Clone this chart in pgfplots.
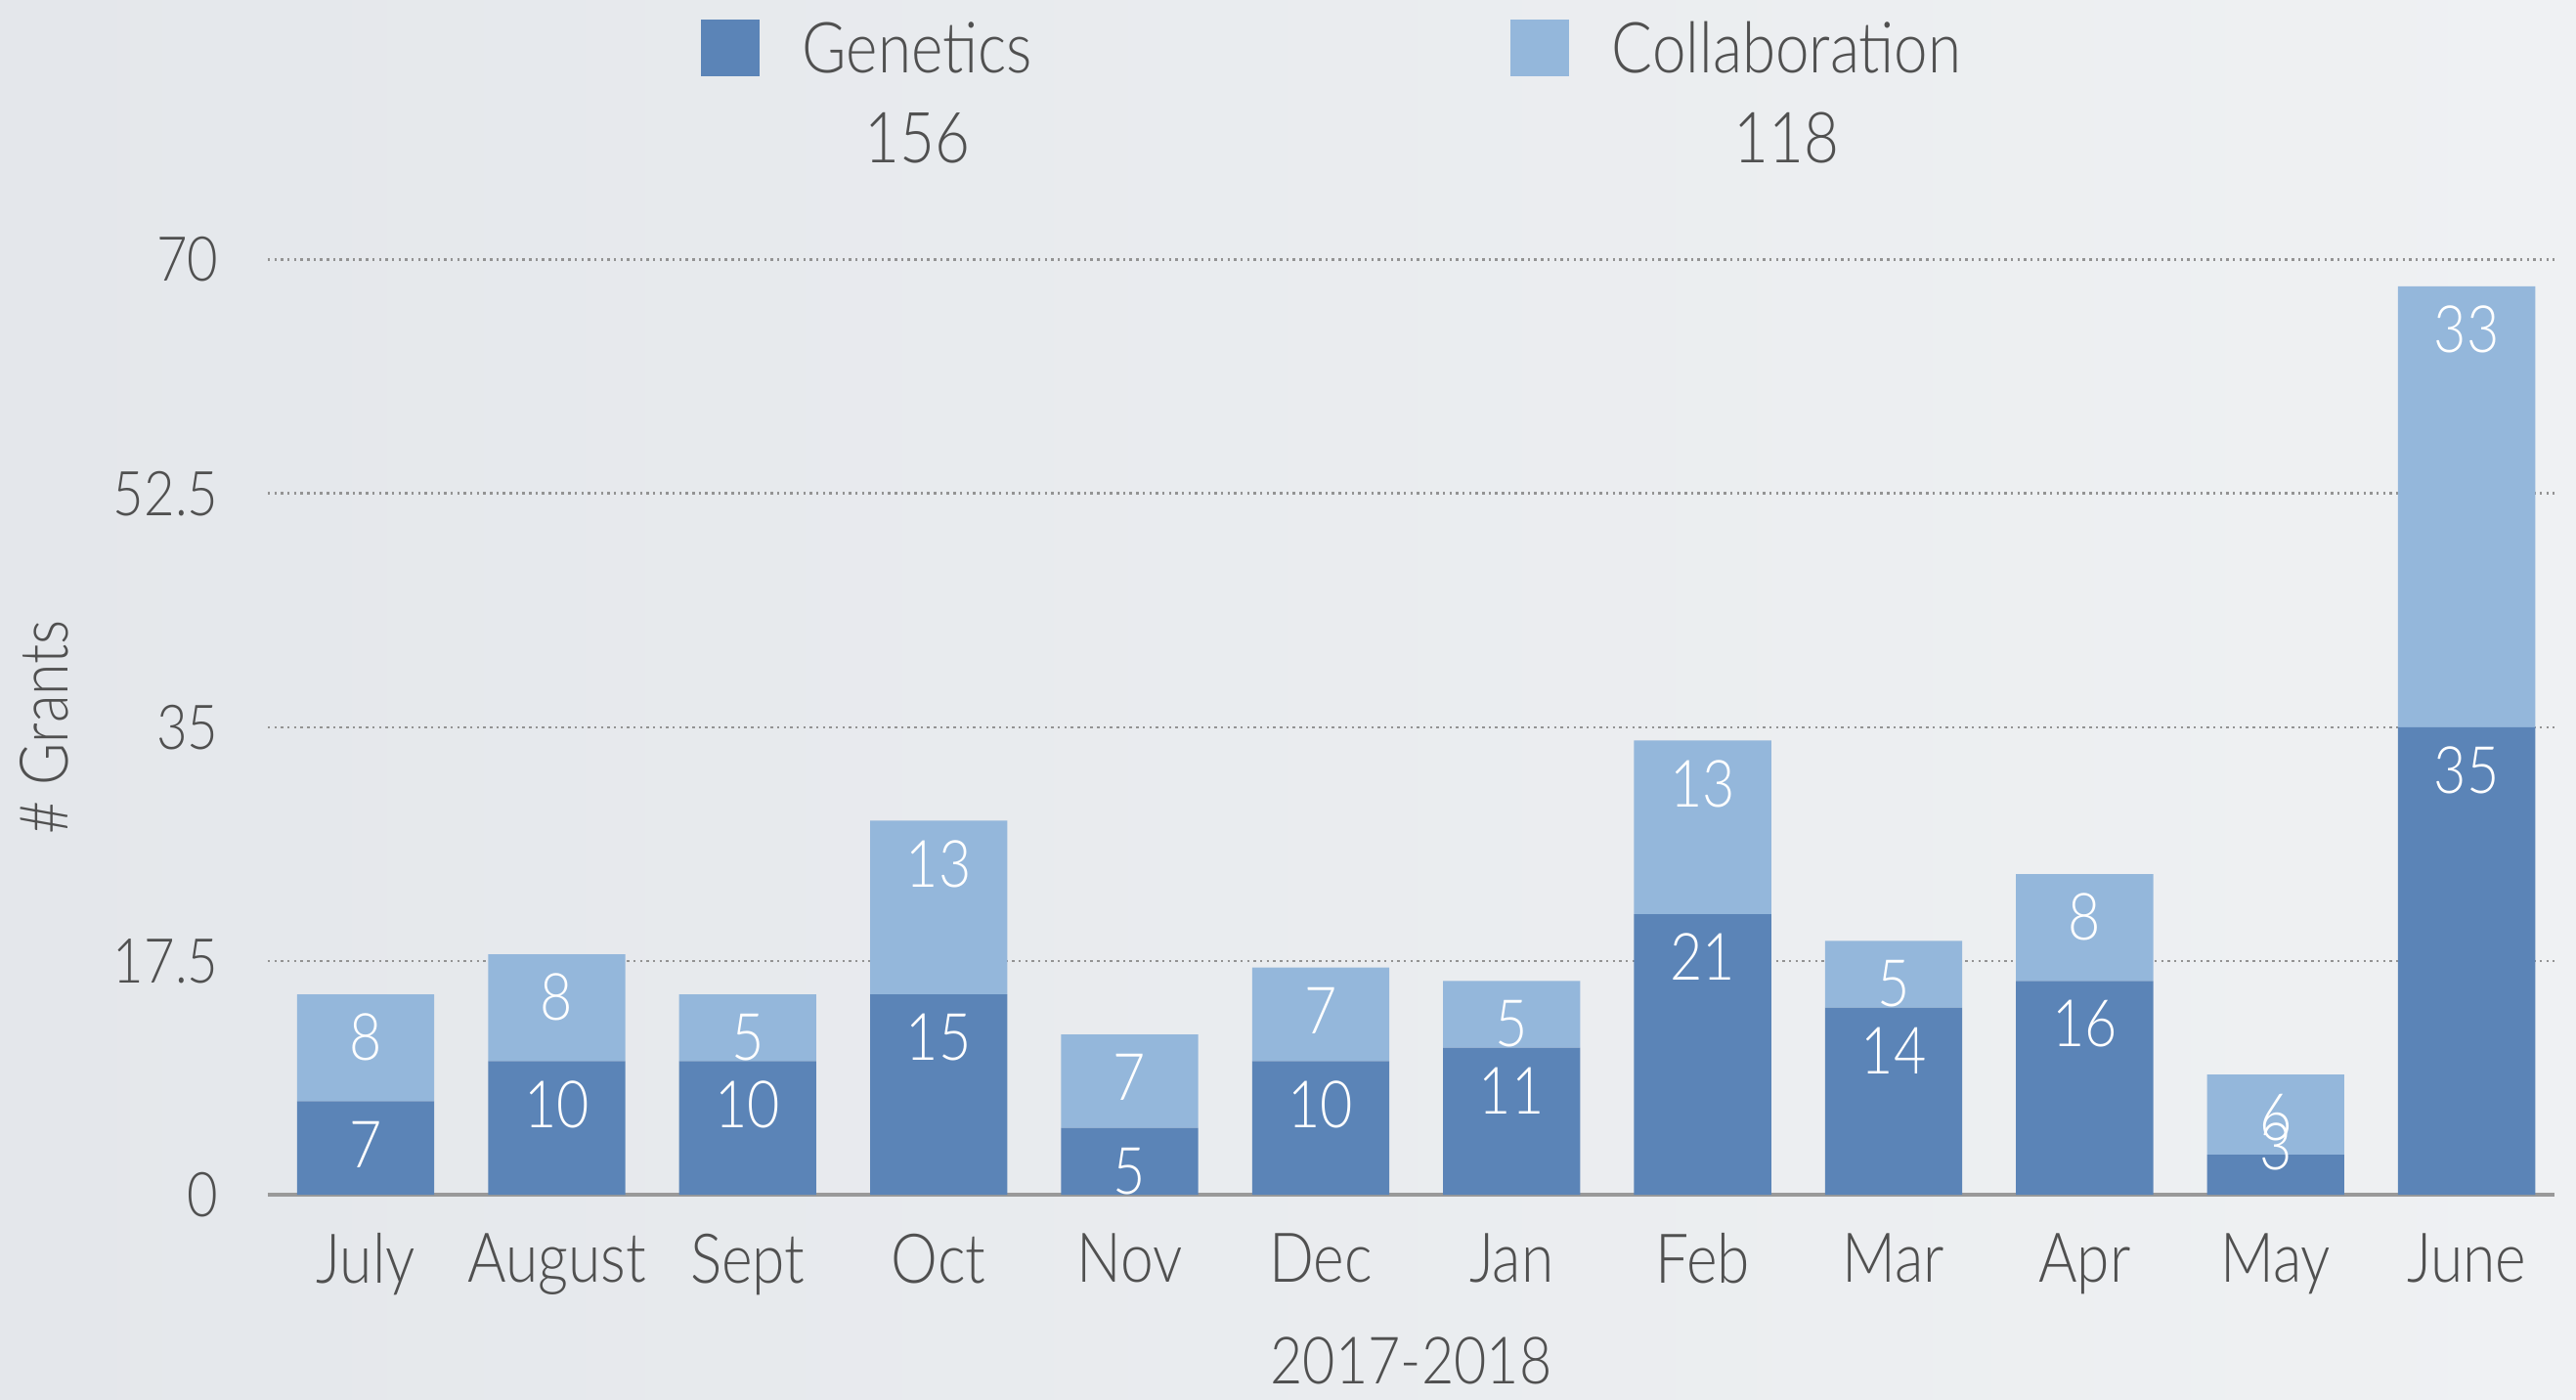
\documentclass[border=0pt]{standalone}
\usepackage{fontspec}
\setmainfont{Lato Light}[FakeStretch=0.86]
\usepackage{pgfplots}
\usepackage{pgfplotstable}
\pgfplotsset{compat=1.18}
\definecolor{gen}{HTML}{5B84B7}
\definecolor{col}{HTML}{94B7DB}
\definecolor{txt}{HTML}{505050}
\definecolor{bgA}{HTML}{E4E7EB}
\definecolor{bgB}{HTML}{EFF1F3}

% x = month index (0 = July ... 11 = June), value, label shift from segment centre (mm)
\pgfplotstableread{
x g gs
0 7 0.38
1 10 2.43
2 10 2.43
3 15 5.85
4 5 -0.98
5 10 2.43
6 11 3.12
7 21 9.95
8 14 5.16
9 16 6.53
10 3 2.85
11 35 19.51
}\gentable
\pgfplotstableread{
x c cs
0 8 1.07
1 8 1.07
2 5 -0.98
3 13 4.48
4 7 0.38
5 7 0.38
6 5 -0.98
7 13 4.48
8 5 -0.98
9 8 1.07
10 6 -0.30
11 33 18.15
}\coltable

\begin{document}
\begin{tikzpicture}
\useasboundingbox (0,0) rectangle (263.5mm,143.1mm);
\shade[left color=bgA, right color=bgB] (0,0) rectangle (263.5mm,143.1mm);
\begin{axis}[
  at={(27.4mm,20.9mm)}, anchor=south west,
  scale only axis, width=233.9mm, height=95.65mm,
  ybar stacked, bar width=14.03mm,
  xmin=-0.512, xmax=11.46, ymin=0, ymax=70,
  xtick={0,1,2,3,4,5,6,7,8,9,10,11},
  xticklabels={July,August,Sept,Oct,Nov,Dec,Jan,Feb,Mar,Apr,May,June},
  ytick={0,17.5,35,52.5,70},
  yticklabels={0,17.5,35,52.5,70},
  major tick length=0pt,
  axis line style={draw=none},
  ymajorgrids,
  grid style={draw=gray!85, line width=0.7pt, dash pattern=on 0.7pt off 1.2pt},
  extra y ticks={0}, extra y tick labels={},
  extra y tick style={grid style={solid, draw=gray!80, line width=1.1pt}},
  ticklabel style={inner sep=0pt, text=txt},
  yticklabel style={xshift=-5mm, anchor=east, font=\fontsize{18}{21}\selectfont},
  xticklabel style={yshift=-3.9mm, anchor=north, font=\fontsize{20}{24}\selectfont},
  ylabel={\# Grants},
  ylabel style={at={(axis description cs:-0.098,0.5)}, anchor=center, font=\fontsize{19.5}{22}\selectfont, text=txt},
  xlabel={2017-2018},
  xlabel style={at={(axis description cs:0.5,-0.178)}, anchor=center, font=\fontsize{19}{22}\selectfont, text=txt},
  point meta=explicit symbolic,
  nodes near coords={\pgfplotspointmeta},
  every node near coord/.append style={white, anchor=center, font=\fontsize{19}{22}\selectfont, yshift=\myshift mm},
  legend columns=2,
  legend style={at={(axis description cs:0.189,1.262)}, anchor=north west,
    draw=none, fill=none, column sep=0pt, row sep=0pt, inner sep=0pt,
    cells={anchor=base west},
    nodes={inner sep=0pt, text=txt, font=\fontsize{20.5}{24}\selectfont}},
]
\addplot[fill=gen, draw=none,
  visualization depends on=\thisrow{gs}\as\myshift,
  legend image code/.code={\fill[gen] (0mm,-0.34mm) rectangle (6mm,5.5mm); \path (10.4mm,0mm);}]
  table[x=x, y=g, meta=g] {\gentable};
\addlegendentry{\makebox[72.4mm][l]{\begin{tabular}[t]{@{}c@{}}Genetics\\[0.7mm]156\end{tabular}}}
\addplot[fill=col, draw=none,
  visualization depends on=\thisrow{cs}\as\myshift,
  legend image code/.code={\fill[col] (0mm,-0.34mm) rectangle (6mm,5.5mm); \path (10.4mm,0mm);}]
  table[x=x, y=c, meta=c] {\coltable};
\addlegendentry{\begin{tabular}[t]{@{}c@{}}Collaboration\\[0.7mm]118\end{tabular}}
\end{axis}
\end{tikzpicture}
\end{document}
